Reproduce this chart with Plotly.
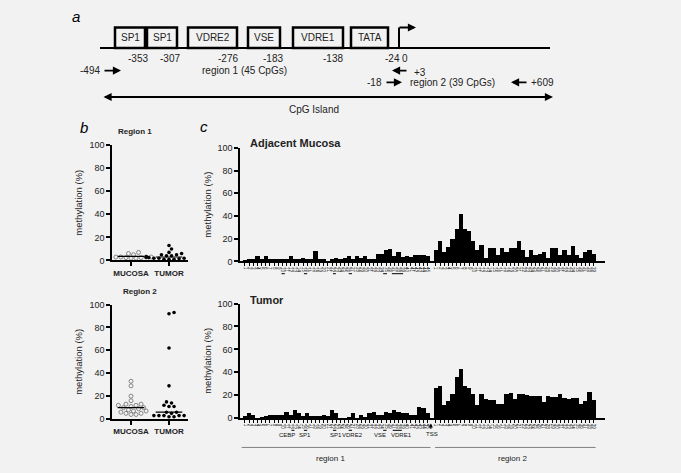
import plotly.graph_objects as go
import numpy as np

W, H = 681, 473
BG = "#f2f2f2"
FONT = "Liberation Sans, Arial, sans-serif"

# ---------------- data ----------------
# panel c: per-CpG methylation (%)
mucosa_r1 = [1.5, 2, 2, 5, 2, 5, 2, 2, 2, 2,
             2, 5, 2, 2, 3.5, 2, 2, 9.5, 2, 2,
             0, 2, 3, 2, 3.5, 5, 2, 5, 3.5, 5,
             2, 2, 6.5, 6.5, 10, 11, 5, 8, 4, 5,
             4, 6, 6, 5.5, 5]
mucosa_r2 = [10, 18, 8, 13, 20, 29, 42, 29, 26.5, 18,
             10, 15, 3, 11.5, 11.5, 6, 11.5, 8.5, 11.5, 11.5,
             18, 10, 4, 10, 6, 7, 8.5, 3, 11.5, 11.5,
             6, 10, 6, 14, 6, 3.5, 8.5, 10, 6.5]
tumor_r1 = [2, 5, 3.5, 0, 1, 2, 3, 3, 3, 3,
            6, 3.5, 7.5, 5, 2, 5, 2, 2, 2, 3,
            2, 7.5, 5, 0, 0, 0.5, 5, 0, 3, 0.5,
            5, 6, 3.5, 3.5, 6, 5, 7.5, 6, 5, 5,
            3.5, 3.5, 10.5, 9, 5]
tumor_r2 = [27, 28, 12, 15.5, 21, 36, 43, 28, 27, 21.5,
            11.5, 21, 17, 16.5, 16.5, 13, 13, 21, 22, 17,
            21, 21, 20.5, 19.5, 19.5, 19.5, 14, 20, 18.5, 18.5,
            21, 17.5, 17, 18, 18, 13, 15.5, 23, 16]
r1_labels = [str(i) for i in range(1, len(mucosa_r1) + 1)]
r2_labels = [str(i) for i in range(1, len(mucosa_r2) + 1)]

# binding-site labels under the tumor plot (CpG index positions)
site_names = ["CEBP", "SP1", "SP1", "VDRE2", "VSE", "VDRE1"]
site_idx = [10.1, 14.5, 21.9, 26.0, 32.6, 37.8]
mucosa_marks = [(8.8, 9.6), (14.2, 15.0), (21.2, 21.9), (25.0, 25.8), (33.3, 34.2), (35.4, 38.1)]
tumor_marks = [(11.2, 11.9), (14.2, 15.0), (21.2, 22.0), (25.0, 25.8), (33.3, 34.1), (35.6, 37.8)]

# panel b: per-sample mean methylation (%)
b_mucosa_r1 = [7, 6, 5, 5, 4.5, 4, 4, 4, 4, 3.5, 3.5, 3.5, 3, 3, 3, 3, 2.5, 2.5, 2, 2]
b_tumor_r1 = [13, 10, 7, 6, 5, 5, 4, 4, 3, 3, 3, 2.5, 2.5, 2, 2, 2, 1.5, 1, 1, 1]
b_mucosa_r2 = [33, 29, 20, 16, 13, 13, 12, 12, 11, 10, 10, 9, 8, 7, 7, 6, 5, 5, 4, 4]
b_tumor_r2 = [93, 92, 62, 29, 15, 14, 12, 11, 11, 6, 6, 5, 4, 3, 3, 3, 3, 3, 2, 2]
groups = ["MUCOSA", "TUMOR"]


def fx(p):
    return p / W


def fy(p):
    return 1 - p / H


def swarm(vals, xs=38.0, ys=1.18, d=4.2):
    placed, offs = [], [0.0] * len(vals)
    cands = [0.0]
    for k in range(1, 10):
        cands += [k * 0.6 * d, -k * 0.6 * d]
    for i in sorted(range(len(vals)), key=lambda j: vals[j]):
        yp = vals[i] * ys
        for c in cands:
            if all((c - a) ** 2 + (yp - b) ** 2 >= d * d for a, b in placed):
                break
        placed.append((c, yp))
        offs[i] = c / xs
    return offs


fig = go.Figure()

# ---------------- panel b ----------------
for (mv, tv, xa, ya) in [(b_mucosa_r1, b_tumor_r1, "x", "y"), (b_mucosa_r2, b_tumor_r2, "x2", "y2")]:
    mo = swarm(mv)
    to = swarm(tv)
    fig.add_trace(go.Scatter(x=[0 + o for o in mo], y=mv, mode="markers", xaxis=xa, yaxis=ya,
                             marker=dict(symbol="circle-open", size=4, color="#7a7a7a", line=dict(width=0.9)),
                             cliponaxis=False, showlegend=False))
    fig.add_trace(go.Scatter(x=[1 + o for o in to], y=tv, mode="markers", xaxis=xa, yaxis=ya,
                             marker=dict(symbol="circle", size=3.6, color="black"),
                             cliponaxis=False, showlegend=False))
    for c, v in [(0, mv), (1, tv)]:
        m = float(np.median(v))
        fig.add_trace(go.Scatter(x=[c - 0.35, c + 0.35], y=[m, m], mode="lines", xaxis=xa, yaxis=ya,
                                 line=dict(color="black", width=1.2), cliponaxis=False, showlegend=False))

# ---------------- panel c ----------------
n1 = len(mucosa_r1)
pos = list(range(n1)) + [n1 + 1 + j for j in range(len(mucosa_r2))]
ticktext = r1_labels + r2_labels
for (v1, v2, xa, ya) in [(mucosa_r1, mucosa_r2, "x3", "y3"), (tumor_r1, tumor_r2, "x4", "y4")]:
    fig.add_trace(go.Bar(x=pos, y=v1 + v2, width=1.0, xaxis=xa, yaxis=ya,
                         marker=dict(color="black", line=dict(width=0)), showlegend=False))


def yax(top, bot, anchor, standoff):
    return dict(domain=[fy(bot), fy(top)], range=[0, 100], tickvals=[0, 20, 40, 60, 80, 100],
                ticks="outside", ticklen=4, tickwidth=1.5, tickcolor="black",
                showline=True, linecolor="black", linewidth=1.5, showgrid=False, zeroline=False,
                tickfont=dict(size=9, color="#222", family=FONT), anchor=anchor,
                title=dict(text="methylation (%)", font=dict(size=9.5, color="#222", family=FONT), standoff=standoff))


def xb(anchor):
    return dict(domain=[fx(112), fx(188)], range=[-0.5, 1.5], tickvals=[0, 1],
                ticktext=["<b>%s</b>" % g for g in groups], ticks="outside", ticklen=4, tickwidth=1.5,
                tickcolor="black", showline=True, linecolor="black", linewidth=1.5, showgrid=False,
                zeroline=False, tickfont=dict(size=8, color="#222", family=FONT), anchor=anchor)


def xc(anchor):
    return dict(domain=[fx(240), fx(605)], range=[-1.2, 86.75], tickvals=pos, ticktext=ticktext,
                ticks="outside", ticklen=3, tickwidth=1, tickcolor="black", tickangle=90,
                showline=True, linecolor="black", linewidth=1.5, showgrid=False, zeroline=False,
                tickfont=dict(size=4.5, color="#111", family=FONT), anchor=anchor)


shapes = []
ann = []


def line(x0, y0, x1, y1, w=2, color="black", xref="paper"):
    shapes.append(dict(type="line", xref=xref, yref="paper",
                       x0=fx(x0) if xref == "paper" else x0, x1=fx(x1) if xref == "paper" else x1,
                       y0=fy(y0), y1=fy(y1), line=dict(color=color, width=w)))


def text(x, y, s, size=10, xanchor="center", bold=False, italic=False, color="#222"):
    if bold:
        s = "<b>%s</b>" % s
    if italic:
        s = "<i>%s</i>" % s
    ann.append(dict(xref="paper", yref="paper", x=fx(x), y=fy(y), text=s, showarrow=False,
                    xanchor=xanchor, yanchor="middle", font=dict(size=size, color=color, family=FONT)))


def arrow(hx, hy, tx, ty, side="end", w=1.8):
    ann.append(dict(xref="paper", yref="paper", x=fx(hx), y=fy(hy), ax=tx - hx, ay=ty - hy,
                    axref="pixel", ayref="pixel", text="", showarrow=True, arrowhead=2,
                    arrowsize=0.9, arrowwidth=w, arrowcolor="black", arrowside=side))


# ---------------- panel a (schematic) ----------------
text(76, 12, "a", size=15, italic=True, color="black")
line(100, 44, 550, 44, w=2)
boxes = [("SP1", 115, 145), ("SP1", 147, 177), ("VDRE2", 188, 237), ("VSE", 248, 280),
         ("VDRE1", 293, 343), ("TATA", 351, 388)]
for name, x0, x1 in boxes:
    shapes.append(dict(type="rect", xref="paper", yref="paper", x0=fx(x0), x1=fx(x1), y0=fy(44), y1=fy(23),
                       line=dict(color="black", width=2.5), fillcolor=BG))
    text((x0 + x1) / 2, 33.5, name, size=10)
line(399, 44, 399, 23, w=2)
arrow(416, 23, 398, 23)
for s, x in [("-353", 137.5), ("-307", 170), ("-276", 228), ("-183", 273), ("-138", 333), ("-24", 392), ("0", 405)]:
    text(x, 54.5, s, size=10)
text(90, 67, "-494", size=10)
arrow(121, 67, 103, 67)
text(244, 67, "region 1 (45 CpGs)", size=10)
arrow(392, 67, 408, 67)
text(420, 68.5, "+3", size=10)
text(375, 79.5, "-18", size=10)
arrow(402, 79, 385, 79)
text(452, 79.5, "region 2 (39 CpGs)", size=10)
arrow(511, 79, 528, 79)
text(542, 79.5, "+609", size=10)
arrow(553, 94, 102, 94, side="end+start")
text(314, 107, "CpG Island", size=10)

# ---------------- panel b/c titles ----------------
text(84, 125, "b", size=15, italic=True, color="black")
text(204, 124, "c", size=15, italic=True, color="black")
text(135, 129, "Region 1", size=8, bold=True)
text(140, 293, "Region 2", size=8, bold=True)
text(248, 141, "Adjacent Mucosa", size=11, bold=True, xanchor="left")
text(248, 301, "Tumor", size=11, bold=True, xanchor="left")

# binding-site underlines
for a, b in mucosa_marks:
    shapes.append(dict(type="line", xref="x3", yref="paper", x0=a, x1=b, y0=fy(274.5), y1=fy(274.5),
                       line=dict(color="black", width=1)))
for a, b in tumor_marks:
    shapes.append(dict(type="line", xref="x4", yref="paper", x0=a, x1=b, y0=fy(434.5), y1=fy(434.5),
                       line=dict(color="black", width=1)))
for s, i in zip(site_names, site_idx):
    ann.append(dict(xref="x4", yref="paper", x=i, y=fy(444), text=s, showarrow=False,
                    font=dict(size=6, color="#111111", family=FONT)))
# TSS marker
ann.append(dict(xref="x4", yref="paper", x=n1, y=fy(443.5), text="TSS", showarrow=False,
                font=dict(size=6, color="#111111", family=FONT)))
ann.append(dict(xref="x4", yref="paper", x=n1 - 0.2, y=fy(427.5), ax=0, ay=7, axref="pixel", ayref="pixel",
                text="", showarrow=True, arrowhead=2, arrowsize=0.8, arrowwidth=1, arrowcolor="black"))
# region brackets
shapes.append(dict(type="line", xref="x4", yref="paper", x0=-0.8, x1=n1 - 0.3, y0=fy(452), y1=fy(452),
                   line=dict(color="#808080", width=1)))
shapes.append(dict(type="line", xref="x4", yref="paper", x0=n1 + 0.8, x1=pos[-1] + 0.5, y0=fy(452), y1=fy(452),
                   line=dict(color="#808080", width=1)))
text(330, 463, "region 1", size=8)
text(512, 463, "region 2", size=8)

fig.update_layout(
    width=W, height=H, autosize=False,
    margin=dict(l=0, r=0, t=0, b=0),
    paper_bgcolor=BG, plot_bgcolor=BG,
    font=dict(family=FONT, color="#222"),
    bargap=0,
    showlegend=False,
    xaxis=xb("y"), yaxis=yax(143, 261, "x", 5),
    xaxis2=xb("y2"), yaxis2=yax(306, 423, "x2", 5),
    xaxis3=xc("y3"), yaxis3=yax(146, 262, "x3", 4),
    xaxis4=xc("y4"), yaxis4=yax(305, 422, "x4", 4),
    shapes=shapes, annotations=ann,
)

fig.write_html("out.html", config={"displayModeBar": False},
               post_script="document.body.style.margin='0';document.body.style.background='%s';"
                           "document.documentElement.style.overflow='hidden';" % BG)
